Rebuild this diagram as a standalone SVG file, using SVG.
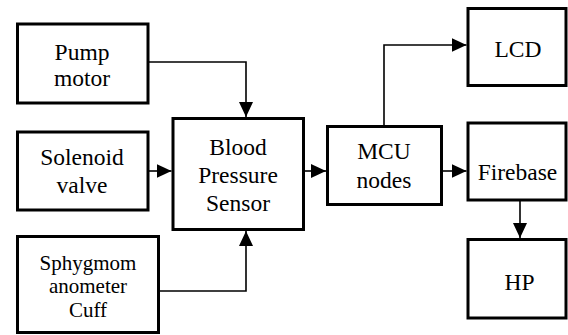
<svg xmlns="http://www.w3.org/2000/svg" width="568" height="335" viewBox="0 0 568 335">
  <style>
    .box { fill: #ffffff; stroke: #000000; stroke-width: 3; }
    .lbl { font-size: 23.5px; fill: #000000; text-anchor: middle; }
    .small { font-size: 21px; }
    .conn { fill: none; stroke: #000000; stroke-width: 1.6; marker-end: url(#arrow); }
  </style>
  <defs>
    <marker id="arrow" markerUnits="userSpaceOnUse" markerWidth="16" markerHeight="15" refX="15" refY="7" orient="auto">
      <path d="M0,0 L15,7 L0,14 Z" fill="#000000"/>
    </marker>
  </defs>
  <rect width="568" height="335" fill="#ffffff"/>

  <g id="connectors">
    <path class="conn" d="M148,62 H246 V117"/>
    <path class="conn" d="M148,171 H171.5"/>
    <path class="conn" d="M158.5,291 H246 V231"/>
    <path class="conn" d="M303.5,171 H326"/>
    <path class="conn" d="M384,126.5 V45 H466.5"/>
    <path class="conn" d="M441.5,171 H466.5"/>
    <path class="conn" d="M520,200 V238"/>
  </g>

  <g font-family="Liberation Serif, DejaVu Serif, serif">
  <g id="pump-motor">
    <rect class="box" x="17.5" y="24" width="130.5" height="79"/>
    <text class="lbl" x="82" y="59.5">Pump</text>
    <text class="lbl" x="82" y="86">motor</text>
  </g>
  <g id="solenoid-valve">
    <rect class="box" x="17.5" y="132" width="130.5" height="78"/>
    <text class="lbl" x="82" y="165">Solenoid</text>
    <text class="lbl" x="82" y="193">valve</text>
  </g>
  <g id="cuff">
    <rect class="box" x="17.5" y="236.5" width="141" height="96"/>
    <text class="lbl small" x="88" y="270">Sphygmom</text>
    <text class="lbl small" x="88" y="293">anometer</text>
    <text class="lbl small" x="88" y="317">Cuff</text>
  </g>
  <g id="bp-sensor">
    <rect class="box" x="173" y="118.5" width="130.5" height="111"/>
    <text class="lbl" x="238" y="155">Blood</text>
    <text class="lbl" x="238" y="183">Pressure</text>
    <text class="lbl" x="238" y="211">Sensor</text>
  </g>
  <g id="mcu">
    <rect class="box" x="327.5" y="126.5" width="114" height="78"/>
    <text class="lbl" x="384" y="159">MCU</text>
    <text class="lbl" x="384" y="188">nodes</text>
  </g>
  <g id="lcd">
    <rect class="box" x="468" y="8.5" width="98" height="77"/>
    <text class="lbl" x="518" y="57">LCD</text>
  </g>
  <g id="firebase">
    <rect class="box" x="468" y="123" width="98" height="77"/>
    <text class="lbl" x="517.5" y="180">Firebase</text>
  </g>
  <g id="hp">
    <rect class="box" x="468" y="239.5" width="98" height="78.5"/>
    <text class="lbl" x="519.5" y="290">HP</text>
  </g>
  </g>
</svg>
